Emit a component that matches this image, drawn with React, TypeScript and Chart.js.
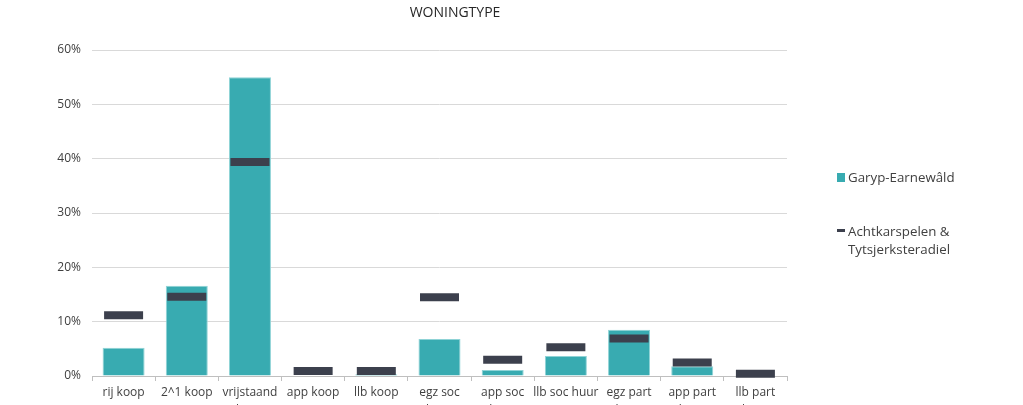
import React, { useEffect, useRef } from "react";
import { Chart, registerables } from "chart.js";

Chart.register(...registerables);

const categories: (string | string[])[] = [
  "rij koop",
  "2^1 koop",
  ["vrijstaand", "koop"],
  "app koop",
  "llb koop",
  ["egz soc", "huur"],
  ["app soc", "huur"],
  "llb soc huur",
  ["egz part", "huur"],
  ["app part", "huur"],
  ["llb part", "huur"],
];

const garypEarnewald = [5.2, 16.6, 55.0, 0, 0.3, 6.8, 1.1, 3.7, 8.5, 1.8, 0];
const achtkarspelenTytsjerksteradiel = [11.2, 14.6, 39.4, 0.9, 0.9, 14.5, 3.0, 5.3, 6.9, 2.5, 0.4];

const yTicks = [0, 10, 20, 30, 40, 50, 60];

const TEAL = "#38abb1";
const DARK = "#3c404d";
const TEXT = "#404040";
const FONT = "'Open Sans', sans-serif";

const W = 1023;
const H = 420;

export default function App() {
  const canvasRef = useRef<HTMLCanvasElement | null>(null);

  useEffect(() => {
    const canvas = canvasRef.current;
    if (!canvas) return;
    const chart = new Chart(canvas, {
      type: "bar",
      data: {
        labels: categories,
        datasets: [
          {
            type: "line",
            label: "Achtkarspelen & Tytsjerksteradiel",
            data: achtkarspelenTytsjerksteradiel,
            showLine: false,
            pointStyle: "line",
            pointRadius: 19.5,
            pointHoverRadius: 19.5,
            pointBorderWidth: 8,
            pointHoverBorderWidth: 8,
            borderColor: DARK,
            backgroundColor: DARK,
            clip: false,
            order: 0,
          } as any,
          {
            type: "bar",
            label: "Garyp-Earnewâld",
            data: garypEarnewald,
            backgroundColor: TEAL,
            borderColor: "#8fd3d6",
            borderWidth: 1,
            barPercentage: 0.665,
            categoryPercentage: 1,
            order: 1,
          },
        ],
      },
      options: {
        responsive: false,
        maintainAspectRatio: false,
        animation: false,
        layout: { padding: { top: 50, right: W - 787, left: 0, bottom: 0 } },
        plugins: {
          legend: { display: false },
          title: { display: false },
          tooltip: { enabled: false },
        },
        scales: {
          x: {
            offset: true,
            grid: {
              offset: true,
              drawOnChartArea: false,
              drawTicks: true,
              tickLength: 5,
              color: "#bfbfbf",
            },
            border: { color: "#bfbfbf", width: 1 },
            ticks: {
              color: TEXT,
              font: { family: FONT, size: 12, lineHeight: 1.5 },
              padding: 3,
              maxRotation: 0,
              autoSkip: false,
            },
            afterFit: (scale: any) => {
              scale.height = H - 376;
            },
          },
          y: {
            min: 0,
            max: 60,
            afterBuildTicks: (scale: any) => {
              scale.ticks = yTicks.map((v) => ({ value: v }));
            },
            grid: { color: "#d9d9d9", drawTicks: false, lineWidth: 1 },
            border: { display: false },
            ticks: {
              color: TEXT,
              font: { family: FONT, size: 12 },
              padding: 11,
              callback: (v: any) => `${v}%`,
            },
            afterFit: (scale: any) => {
              scale.width = 92;
            },
          },
        },
      },
    });
    return () => chart.destroy();
  }, []);

  const legendText: React.CSSProperties = {
    position: "absolute",
    left: 848,
    fontFamily: FONT,
    fontSize: 13.3,
    lineHeight: "18px",
    color: TEXT,
    whiteSpace: "nowrap",
  };

  return (
    <div style={{ position: "fixed", left: 0, top: 0, width: W, height: H }}>
      <canvas ref={canvasRef} width={W} height={H} style={{ display: "block", width: W, height: H }} />
      <div
        style={{
          position: "absolute",
          left: 0,
          top: 2,
          width: 910,
          textAlign: "center",
          fontFamily: FONT,
          fontSize: 14,
          lineHeight: "20px",
          color: "#262626",
        }}
      >
        WONINGTYPE
      </div>
      <div style={{ position: "absolute", left: 837, top: 173, width: 8, height: 9, background: TEAL }} />
      <div style={{ ...legendText, top: 168 }}>Garyp-Earnewâld</div>
      <div style={{ position: "absolute", left: 837, top: 229, width: 8, height: 3, background: DARK }} />
      <div style={{ ...legendText, top: 222 }}>
        Achtkarspelen &amp;
        <br />
        Tytsjerksteradiel
      </div>
    </div>
  );
}
